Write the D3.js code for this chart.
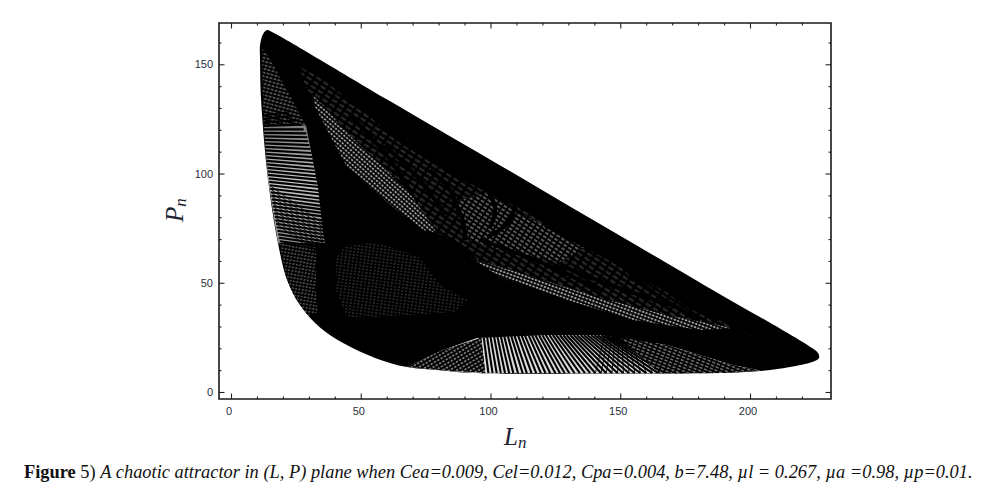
<!DOCTYPE html>
<html><head><meta charset="utf-8">
<script src="https://cdn.jsdelivr.net/npm/d3@7"></script>
<style>html,body{margin:0;background:#fff}svg{display:block}</style></head>
<body><svg id="c" width="996" height="502"></svg>
<script>
// ---- values, all in (L, P) data units ----
const xMajor=[0,50,100,150,200];
const yMajor=[0,50,100,150];
const xMinor=[10,20,30,40,60,70,80,90,110,120,130,140,160,170,180,190,210,220];
const yMinor=[10,20,30,40,60,70,80,90,110,120,130,140,160];
const captionBold="Figure";
const captionText="A chaotic attractor in (L, P) plane when Cea=0.009, Cel=0.012, Cpa=0.004, b=7.48, µl = 0.267, µa =0.98, µp=0.01.";

const silhouette=[[13.9,165.7],[15.8,164.8],[60,134],[120,92.4],[180,50.6],[223.9,20.1],[226.2,17.8],[226.6,15.6],[223.9,13.7],[215.4,11.4],[203.9,9.6],[188.4,8.7],[168,8.5],[142.2,8.5],[93.3,8.7],[80.5,10],[67.8,11.4],[55.5,15.6],[43.2,22.4],[34.3,29.5],[26.6,39.8],[21.6,51.3],[18.1,68.2],[14.3,97],[11.6,133.6],[11.2,152],[11.2,158.8],[12.3,163.8]];
const upperLeftCells=[[11.9,157],[13.9,155],[28.9,122],[12.6,122]];
const leftFanArea=[[12.6,122],[28.9,122],[33.5,93.8],[35.5,72.8],[36.2,68.2],[18.1,68.2],[14.3,97]];
const lowerLeftCells=[[18.5,68.2],[32.8,68.2],[32.8,46.7],[33.5,36.6],[29.7,34.8],[25,42.1],[21.2,52.6]];
const upperBand=[[31.6,135.9],[37,129.1],[44.7,118.5],[54.7,107.6],[70.1,89.2],[79.4,72.8],[74,74.1],[62.4,84.7],[44.7,103],[37,119.9],[32.4,130.4]];
const upperRegion=[[26.6,148.7],[34.3,144.2],[52.4,127],[65.1,114],[83.2,101],[101,90],[111.4,84],[126.8,74],[137.2,66],[170.3,44],[201.2,25.2],[193.4,29.3],[168,34.3],[142.2,42.1],[116.4,52.6],[94.8,60.4],[92.1,65],[79.4,72.8],[65.1,91.1],[42,119.9],[28.5,139.6]];
const upperGlow=[[86,87],[98,91],[108,84],[124,74],[136,66],[126.8,59.5],[103.7,65],[92.1,69.6]];
const lowerBand=[[92.1,61.8],[94.8,60.4],[116.4,52.6],[142.2,43],[168,35.2],[193.4,29.3],[180.7,28.4],[154.9,33],[129.5,42.1],[103.7,52.6]];
const disc=[[40.5,61.3],[43.9,66.8],[55.5,68.6],[65.1,65],[72.8,61.3],[80.5,49],[91.3,42.1],[86.3,36.6],[69,35.2],[44.7,33.9],[40.5,46.7]];
const bottomArea=[[67.8,11.4],[81.7,19.2],[94.8,24.7],[122.9,26.1],[142.2,26.1],[168,21.5],[193.4,12.4],[203.9,9.8],[188.4,8.7],[93.3,8.7],[80.5,10]];
const bottomCells=[[67.8,11.4],[81.7,19.2],[96.5,24.8],[98,8.7],[80.5,10]];
const bottomRightCells=[[150,25],[168,21.5],[193.4,12.4],[203.9,9.8],[188.4,8.7],[165,8.6]];
const darkArcs=[
 [[85.5,87.9],[89.4,78.7],[90.2,69.6]],
 [[97.1,95.7],[101.7,84.7],[99.8,75.5]],
 [[110.6,92.4],[107.5,78.7],[98.7,70.9]],
 [[96,69.6],[119.1,59.5],[142.2,46.7]],
 [[121,76.4],[138.3,65.9],[157.6,53.5]],
 [[76.7,101.6],[84.4,92.4],[88.2,81]],
 [[59.3,113],[72.8,97],[82.5,81]],
 [[45.9,126.8],[61.3,106.2],[70.9,87.9]],
 [[157.6,59.5],[173,42.1],[188.4,33]],
 [[142.2,67.3],[161.5,46.7],[180.7,33]],
 [[126.8,58.1],[146.1,49],[169.2,39.8]]
];

const leftFanStart=[[11.9,133],[12,131.4],[12.1,129.8],[12.2,128.2],[12.3,126.6],[12.4,125],[12.5,123.4],[12.6,121.8],[12.7,120.2],[12.8,118.6],[12.9,117],[13,115.4],[13.1,113.8],[13.2,112.2],[13.3,110.6],[13.5,109],[13.6,107.4],[13.7,105.8],[13.9,104.2],[14,102.6],[14.2,101],[14.3,99.4],[14.5,97.8],[14.7,96.2],[14.9,94.6],[15.1,93],[15.3,91.4],[15.5,89.8],[15.7,88.2],[15.9,86.6],[16.1,85],[16.4,83.4],[16.6,81.8],[16.9,80.2],[17.1,78.6],[17.4,77],[17.6,75.4],[17.9,73.8],[18.2,72.2],[18.5,70.6],[18.8,69]];
const leftFanEnd=[[22,128],[24,126.4],[26,124.4],[27,122.4],[28,120.2],[29,118.4],[29.4,116.6],[29.8,114.8],[30.2,113],[30.6,111.2],[31,109.4],[31.3,107.6],[31.6,105.8],[31.9,104],[32.2,102.2],[32.5,100.6],[32.8,98.8],[33.1,97.2],[33.4,95.4],[33.7,93.8],[34,92],[34.2,90.4],[34.4,88.6],[34.6,87],[34.8,85.2],[35,83.6],[35.1,82],[35.2,80.4],[35.4,78.6],[35.5,77],[35.6,75.4],[35.7,73.8],[35.8,72.2],[35.9,70.6],[36,69],[36.1,67.6],[36.2,66.2],[36.2,64.8],[36.2,63.4],[36.2,62],[36.2,60.6]];

const bottomFanStart=[[96,25],[97.4,25],[98.7,25.1],[100,25.2],[101.4,25.2],[102.7,25.3],[104,25.4],[105.3,25.5],[106.7,25.5],[108,25.6],[109.3,25.6],[110.7,25.7],[112,25.8],[113.3,25.8],[114.7,25.9],[116,25.9],[117.3,26],[118.7,26],[120,26],[121.3,26.1],[122.7,26.1],[124,26.1],[125.3,26.1],[126.7,26.1],[128,26.1],[129.3,26.1],[130.7,26.1],[132,26.1],[133.3,26.1],[134.7,26.1],[136,26.1],[137.3,26.1],[138.7,26.1],[140,26.1],[141.3,26],[142.7,26],[144,25.8],[145.3,25.6],[146.7,25.4],[148,25.2],[149.3,25],[150.7,24.7],[152,24.5],[153.3,24.2],[154.7,24],[156,23.7],[157.3,23.4],[158.7,23.1],[160,22.8],[161.3,22.5]];
const bottomFanEnd=[[97.5,8.6],[99.2,8.6],[100.8,8.6],[102.4,8.6],[104,8.6],[105.6,8.6],[107.2,8.6],[108.8,8.6],[110.6,8.6],[112.4,8.6],[114,8.6],[115.8,8.6],[117.6,8.6],[119.4,8.6],[121.2,8.6],[123,8.6],[125,8.6],[126.8,8.6],[128.6,8.6],[130.4,8.6],[132.4,8.6],[134.4,8.6],[136.4,8.6],[138.4,8.6],[140.4,8.6],[142.6,8.6],[144.6,8.6],[146.8,8.6],[149,8.6],[151.2,8.6],[153.4,8.6],[155.6,8.6],[157.8,8.6],[160,8.6],[162.4,8.6],[164.6,8.6],[167,8.6],[169.4,8.6],[171.8,8.6],[174,8.6],[176.4,8.6],[178.8,8.7],[181.2,8.7],[183.6,8.7],[186,8.7],[188.4,8.7],[190.8,8.9],[193.2,9],[195.6,9.2],[198,9.4]];

// ---- scales ----
const x=d3.scaleLinear().domain([0,200]).range([231,750]);
const y=d3.scaleLinear().domain([0,150]).range([392,64.3]);
const frame={l:219,r:831,t:23,b:399};
const svg=d3.select("#c");
const defs=svg.append("defs");
defs.append("filter").attr("id","soft").attr("x","-2%").attr("y","-2%").attr("width","104%").attr("height","104%")
  .append("feGaussianBlur").attr("stdDeviation",0.55);

function lattice(id,w,h,cw,ch,rot,col){
  const p=defs.append("pattern").attr("id",id).attr("patternUnits","userSpaceOnUse")
    .attr("width",w).attr("height",h).attr("patternTransform",`rotate(${rot})`);
  p.append("rect").attr("width",w).attr("height",h).attr("fill","#000");
  p.append("rect").attr("x",(w-cw)/2).attr("y",(h-ch)/2).attr("width",cw).attr("height",ch).attr("fill",col);
}
lattice("pUpper",8.5,5,5.6,1.8,33,"#333");
lattice("pGlow",5.5,4,3.6,2,33,"#585858");
lattice("pBandA",3.6,3.4,2.2,1.8,40,"#a0a0a0");
lattice("pBandB",3.6,3.4,2.2,1.8,20,"#a8a8a8");
lattice("pDisc",3.8,3.2,2,1.2,8,"#363636");
lattice("pLeft",4,3.6,2.6,1.4,15,"#707070");
lattice("pLower",3.4,3.4,2,1.5,10,"#555");
lattice("pBottom",3.8,3.6,2.2,1.6,-30,"#8c8c8c");
lattice("pBR",5,3.2,3.2,1.4,22,"#777");
const fanFill=defs.append("linearGradient").attr("id","fanFill").attr("x1",0).attr("y1",0).attr("x2",0).attr("y2",1);
fanFill.append("stop").attr("offset",0).attr("stop-color","#7a7a7a");
fanFill.append("stop").attr("offset",0.5).attr("stop-color","#c8c8c8");
fanFill.append("stop").attr("offset",1).attr("stop-color","#888");

const poly=d3.line().x(d=>x(d[0])).y(d=>y(d[1])).curve(d3.curveLinearClosed);
const smooth=d3.line().x(d=>x(d[0])).y(d=>y(d[1])).curve(d3.curveCatmullRomClosed.alpha(0.5));
const open=d3.line().x(d=>x(d[0])).y(d=>y(d[1])).curve(d3.curveNatural);
defs.append("clipPath").attr("id","clipS").append("path").attr("d",smooth(silhouette));

const g=svg.append("g").attr("filter","url(#soft)");
g.append("path").attr("d",smooth(silhouette)).attr("fill","#000");
const art=g.append("g").attr("clip-path","url(#clipS)");
function area(pts,fill){art.append("path").attr("d",poly(pts)).attr("fill",fill);}
area(upperRegion,"url(#pUpper)");
area(upperGlow,"url(#pGlow)");
art.append("g").selectAll("path").data(darkArcs).join("path").attr("d",d=>open(d))
  .attr("fill","none").attr("stroke","#000").attr("stroke-width",4);
area(upperBand,"url(#pBandA)");
area(lowerBand,"url(#pBandB)");
area(disc,"url(#pDisc)");
area(upperLeftCells,"url(#pLeft)");
area(lowerLeftCells,"url(#pLower)");
area(leftFanArea,"url(#fanFill)");
area(bottomArea,"#dcdcdc");

function fan(a,b,w,off){
  art.append("g").selectAll("line").data(a.filter((d,i)=>b[i-off])).join("line")
   .attr("x1",d=>x(d[0])).attr("y1",d=>y(d[1]))
   .attr("x2",d=>x(b[a.indexOf(d)-off][0])).attr("y2",d=>y(b[a.indexOf(d)-off][1]))
   .attr("stroke","#000").attr("stroke-width",w);
}
fan(leftFanStart,leftFanEnd,2.1,4);
fan(leftFanStart.slice(24),leftFanEnd.slice(24),0.8,-5);
fan(bottomFanStart,bottomFanEnd,2.1,0);
fan(bottomFanStart.slice(24),bottomFanEnd.slice(24),0.9,12);
area(bottomCells,"url(#pBottom)");
area(bottomRightCells,"url(#pBR)");

// frame + ticks through d3 axes
const tickCol="#222",labCol="#2a3040";
const X=svg.append("g");
function drawTicks(kind,pos,values,len){
  const scale=(kind==="bottom"||kind==="top")?x:y;
  const ax=(kind==="bottom"?d3.axisTop:kind==="top"?d3.axisBottom:kind==="left"?d3.axisRight:d3.axisLeft)(scale)
     .tickValues(values).tickSize(len).tickFormat("");
  const t=(kind==="bottom"||kind==="top")?`translate(0,${pos})`:`translate(${pos},0)`;
  const gg=X.append("g").attr("transform",t).call(ax);
  gg.select(".domain").remove();
  gg.selectAll("line").attr("stroke",tickCol).attr("stroke-width",1.1);
}
drawTicks("bottom",frame.b,xMajor,5.5);drawTicks("bottom",frame.b,xMinor,2.5);
drawTicks("top",frame.t,xMajor,5.5);drawTicks("top",frame.t,xMinor,2.5);
drawTicks("left",frame.l,yMajor,5.5);drawTicks("left",frame.l,yMinor,2.5);
drawTicks("right",frame.r,yMajor,5.5);drawTicks("right",frame.r,yMinor,2.5);

svg.append("path").attr("d",`M${frame.l},${frame.t}H${frame.r}V${frame.b}H${frame.l}Z`)
  .attr("fill","none").attr("stroke","#1a1a1a").attr("stroke-width",1.6);

const lab=svg.append("g").attr("font-family","'Liberation Sans',sans-serif").attr("font-size",11).attr("fill",labCol);
lab.selectAll("text.x").data(xMajor).join("text").attr("class","x")
  .attr("x",d=>x(d)-2).attr("y",415).attr("text-anchor","middle").text(d=>d);
lab.selectAll("text.y").data(yMajor).join("text").attr("class","y")
  .attr("x",213).attr("y",d=>y(d)+4).attr("text-anchor","end").text(d=>d);

const serif="'Liberation Serif',serif";
const xl=svg.append("text").attr("x",504).attr("y",445).attr("font-family",serif).attr("font-style","italic").attr("font-size",25).attr("fill","#1c2233");
xl.append("tspan").text("L");
xl.append("tspan").attr("font-size",17).attr("dy",3).text("n");
const yl=svg.append("text").attr("transform","translate(183,222) rotate(-90)").attr("font-family",serif).attr("font-style","italic").attr("font-size",25).attr("fill","#1c2233");
yl.append("tspan").text("P");
yl.append("tspan").attr("font-size",17).attr("dy",3).text("n");

const cap=svg.append("text").attr("x",24).attr("y",478).attr("font-family",serif).attr("font-size",18.4).attr("fill","#111");
cap.append("tspan").attr("font-weight","bold").text(captionBold);
cap.append("tspan").text(" 5) ");
cap.append("tspan").attr("font-style","italic").text(captionText);
</script></body></html>
